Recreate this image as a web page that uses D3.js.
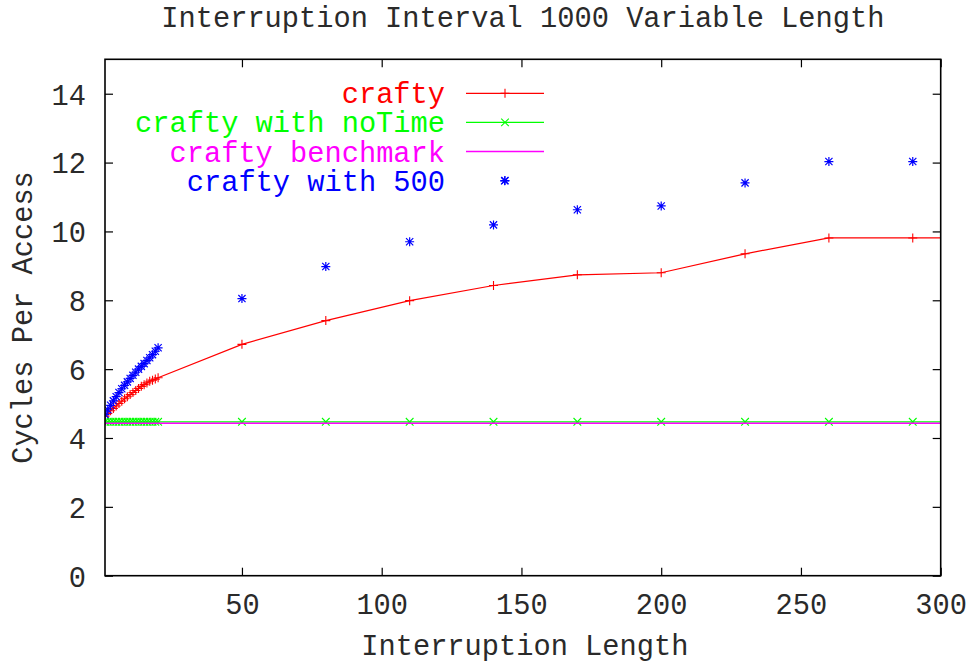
<!DOCTYPE html>
<html>
<head>
<meta charset="utf-8">
<script src="https://cdn.jsdelivr.net/npm/d3@7"></script>
<style>
  html, body { margin: 0; padding: 0; background: #fff; }
  svg { display: block; }
  text { font-family: "Courier New", "Liberation Mono", "DejaVu Sans Mono", monospace; }
</style>
</head>
<body>
<svg id="chart" width="968" height="666"></svg>
<script>
// Interruption lengths shared by the "crafty" and "crafty with noTime" runs
const lengths = [1, 2, 3, 4, 5, 6, 7, 8, 9, 10, 11, 12, 13, 14, 15, 16, 17, 18, 19, 20,
                 50, 80, 110, 140, 170, 200, 230, 260, 290, 320];
const crafty = [4.63, 4.71, 4.79, 4.86, 4.93, 5.00, 5.07, 5.14, 5.20, 5.26,
                5.32, 5.38, 5.44, 5.50, 5.55, 5.60, 5.65, 5.68, 5.71, 5.75,
                6.72, 7.41, 7.99, 8.43, 8.74, 8.80, 9.35, 9.81, 9.81, 9.81];
const noTime = [4.47, 4.47, 4.47, 4.47, 4.47, 4.47, 4.47, 4.47, 4.47, 4.47,
                4.47, 4.47, 4.47, 4.47, 4.47, 4.47, 4.47, 4.47, 4.47, 4.47,
                4.47, 4.47, 4.47, 4.47, 4.47, 4.47, 4.47, 4.47, 4.47, 4.47];
// Benchmark is a single flat level
const benchmark = 4.43;
// "crafty with 500" run (points only)
const lengths500 = [1, 2, 3, 4, 5, 6, 7, 8, 9, 10, 11, 12, 13, 14, 15, 16, 17, 18, 19, 20,
                    50, 80, 110, 140, 144, 170, 200, 230, 260, 290];
const with500 = [4.68, 4.82, 4.95, 5.08, 5.20, 5.32, 5.43, 5.53, 5.63, 5.73,
                 5.82, 5.91, 6.00, 6.08, 6.16, 6.25, 6.33, 6.42, 6.52, 6.62,
                 8.05, 8.98, 9.70, 10.19, 11.47, 10.63, 10.74, 11.41, 12.03, 12.03];

const xTicks = [50, 100, 150, 200, 250, 300];
const yTicks = [0, 2, 4, 6, 8, 10, 12, 14];
const seriesNames = ["crafty", "crafty with noTime", "crafty benchmark", "crafty with 500"];
const seriesColors = ["#ff0000", "#00ff00", "#ff00ff", "#0000ff"];

const titleText = "Interruption Interval 1000 Variable Length";
const xLabel = "Interruption Length";
const yLabel = "Cycles Per Access";

const margin = { left: 105, right: 27.3, top: 59.3, bottom: 90.3 };
const W = 968, H = 666;
const svg = d3.select("#chart");

const x = d3.scaleLinear().domain([1, 300]).range([margin.left, W - margin.right]);
const y = d3.scaleLinear().domain([0, 15]).range([H - margin.bottom, margin.top]);

const x0 = x.range()[0], x1 = x.range()[1];
const y0 = y.range()[0], y1 = y.range()[1];

svg.append("defs").append("clipPath").attr("id", "plotClip")
  .append("rect").attr("x", x0).attr("y", y1).attr("width", x1 - x0).attr("height", y0 - y1);

// Axes with inward ticks on all four sides
const tickLen = 8;
const axisFont = 28.7;
const textColor = "#2a2a2a";

const gBottom = svg.append("g").attr("transform", `translate(0,${y0})`)
  .call(d3.axisBottom(x).tickValues(xTicks).tickSize(-tickLen).tickFormat(d3.format("d")));
gBottom.selectAll("text").attr("y", 38).attr("dy", null);

svg.append("g").attr("transform", `translate(0,${y1})`)
  .call(d3.axisTop(x).tickValues(xTicks).tickSize(-tickLen).tickFormat(""));

const gLeft = svg.append("g").attr("transform", `translate(${x0},0)`)
  .call(d3.axisLeft(y).tickValues(yTicks).tickSize(-tickLen).tickFormat(d3.format("d")));
gLeft.selectAll("text").attr("x", -19).attr("dy", "0.36em");

svg.append("g").attr("transform", `translate(${x1},0)`)
  .call(d3.axisRight(y).tickValues(yTicks).tickSize(-tickLen).tickFormat(""));

svg.selectAll(".domain").remove();
svg.selectAll(".tick line").attr("stroke", "#000").attr("stroke-width", 1.2);
svg.selectAll(".tick text")
  .attr("font-size", axisFont)
  .attr("font-family", "'Courier New', 'Liberation Mono', monospace")
  .attr("fill", textColor);

// Title and axis labels
svg.append("text").attr("x", (x0 + x1) / 2).attr("y", 27)
  .attr("text-anchor", "middle").attr("font-size", axisFont).attr("fill", textColor).text(titleText);
svg.append("text").attr("x", (x0 + x1) / 2 + 2).attr("y", 655)
  .attr("text-anchor", "middle").attr("font-size", axisFont).attr("fill", textColor).text(xLabel);
svg.append("text").attr("transform", `translate(32,${(y0 + y1) / 2}) rotate(-90)`)
  .attr("text-anchor", "middle").attr("font-size", axisFont).attr("fill", textColor).text(yLabel);

// Marker shapes
const ms = 4.5;
const plusPath = `M${-ms},0H${ms}M0,${-ms}V${ms}`;
const crossPath = `M${-ms*0.85},${-ms*0.85}L${ms*0.85},${ms*0.85}M${-ms*0.85},${ms*0.85}L${ms*0.85},${-ms*0.85}`;
const starPath = plusPath + `M${-ms*0.8},${-ms*0.8}L${ms*0.8},${ms*0.8}M${-ms*0.8},${ms*0.8}L${ms*0.8},${-ms*0.8}`;

const plot = svg.append("g").attr("clip-path", "url(#plotClip)");
const line = d3.line().x(d => x(d[0])).y(d => y(d[1]));

const craftyPts = lengths.map((l, i) => [l, crafty[i]]);
const noTimePts = lengths.map((l, i) => [l, noTime[i]]);
const with500Pts = lengths500.map((l, i) => [l, with500[i]]);

// crafty: line with + markers
plot.append("path").datum(craftyPts).attr("d", line)
  .attr("fill", "none").attr("stroke", seriesColors[0]).attr("stroke-width", 1.2);
plot.selectAll(".m0").data(craftyPts).join("path")
  .attr("transform", d => `translate(${x(d[0])},${y(d[1])})`)
  .attr("d", plusPath).attr("fill", "none").attr("stroke", seriesColors[0]).attr("stroke-width", 1.1);

// crafty with noTime: line with x markers
plot.append("path").datum(noTimePts).attr("d", line)
  .attr("fill", "none").attr("stroke", seriesColors[1]).attr("stroke-width", 1.2);
plot.selectAll(".m1").data(noTimePts).join("path")
  .attr("transform", d => `translate(${x(d[0])},${y(d[1])})`)
  .attr("d", crossPath).attr("fill", "none").attr("stroke", seriesColors[1]).attr("stroke-width", 1.1);

// crafty benchmark: flat line
plot.append("path").datum(x.domain().map(v => [v, benchmark])).attr("d", line)
  .attr("fill", "none").attr("stroke", seriesColors[2]).attr("stroke-width", 1.4);

// crafty with 500: * markers only
plot.selectAll(".m3").data(with500Pts).join("path")
  .attr("transform", d => `translate(${x(d[0])},${y(d[1])})`)
  .attr("d", starPath).attr("fill", "none").attr("stroke", seriesColors[3]).attr("stroke-width", 1.2);

// Plot frame
svg.append("rect").attr("x", x0).attr("y", y1).attr("width", x1 - x0).attr("height", y0 - y1)
  .attr("fill", "none").attr("stroke", "#000").attr("stroke-width", 1.6);

// Legend
const legX = 445, legY = 93.3, legStep = 29.1;
const sampleX0 = 466, sampleX1 = 544, sampleMid = 505;
const legendMarkers = [plusPath, crossPath, null, starPath];
const legendLines = [true, true, true, false];
seriesNames.forEach((name, i) => {
  const cy = legY + i * legStep;
  svg.append("text").attr("x", legX).attr("y", cy).attr("dy", "0.35em")
    .attr("text-anchor", "end").attr("font-size", axisFont).attr("fill", seriesColors[i]).text(name);
  if (legendLines[i]) {
    svg.append("line").attr("x1", sampleX0).attr("x2", sampleX1).attr("y1", cy).attr("y2", cy)
      .attr("stroke", seriesColors[i]).attr("stroke-width", i === 2 ? 1.4 : 1.2);
  }
  if (legendMarkers[i]) {
    svg.append("path").attr("transform", `translate(${sampleMid},${cy})`)
      .attr("d", legendMarkers[i]).attr("fill", "none").attr("stroke", seriesColors[i]).attr("stroke-width", 1.1);
  }
});
</script>
</body>
</html>
